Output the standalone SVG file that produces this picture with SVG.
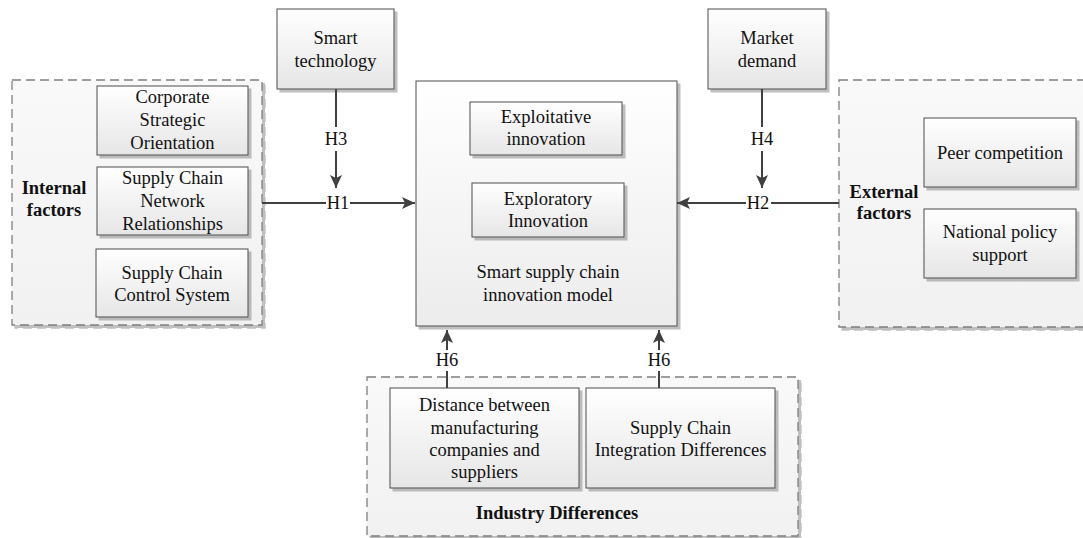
<svg xmlns="http://www.w3.org/2000/svg" width="1083" height="538" viewBox="0 0 1083 538">
<defs>
<linearGradient id="gBox" x1="0" y1="0" x2="0" y2="1"><stop offset="0" stop-color="#ffffff"/><stop offset="1" stop-color="#e6e6e6"/></linearGradient>
<linearGradient id="gMain" x1="0" y1="0" x2="0" y2="1"><stop offset="0" stop-color="#ffffff"/><stop offset="1" stop-color="#ececec"/></linearGradient>
<linearGradient id="gGroup" x1="0" y1="0" x2="0" y2="1"><stop offset="0" stop-color="#f9f9f9"/><stop offset="1" stop-color="#f1f1f1"/></linearGradient>
<filter id="sh" x="-10%" y="-10%" width="130%" height="130%"><feDropShadow dx="3" dy="3" stdDeviation="0.7" flood-color="#8a8a8a" flood-opacity="0.55"/></filter>
<marker id="arr" markerUnits="userSpaceOnUse" markerWidth="14" markerHeight="14" refX="13" refY="6" orient="auto"><path d="M0,0 L13,6 L0,12 L3,6 z" fill="#404040"/></marker>
<style>
.box{fill:url(#gBox);stroke:#4d4d4d;stroke-width:1;filter:url(#sh)}
.main{fill:url(#gMain);stroke:#4d4d4d;stroke-width:1;filter:url(#sh)}
.grp{fill:url(#gGroup);stroke:#7f7f7f;stroke-width:1.3;stroke-dasharray:9,5;filter:url(#sh)}
.t{font-family:"Liberation Serif","Times New Roman",serif;font-size:18.5px;fill:#111;text-anchor:middle}
.b{font-weight:bold}
.ln{stroke:#404040;stroke-width:2;fill:none}
</style>
</defs>
<rect width="1083" height="538" fill="#ffffff"/>

<g id="internal-factors">
<rect class="grp" x="12" y="80" width="250" height="245"/>
<text class="t b" x="54" y="194">Internal</text>
<text class="t b" x="54" y="216">factors</text>
</g>
<g id="corporate-strategic-orientation">
<rect class="box" x="97" y="86" width="151" height="69"/>
<text class="t" x="172.5" y="103">Corporate</text>
<text class="t" x="172.5" y="126">Strategic</text>
<text class="t" x="172.5" y="149">Orientation</text>
</g>
<g id="network-relationships">
<rect class="box" x="97" y="167" width="151" height="68"/>
<text class="t" x="172.5" y="184">Supply Chain</text>
<text class="t" x="172.5" y="207">Network</text>
<text class="t" x="172.5" y="230">Relationships</text>
</g>
<g id="control-system">
<rect class="box" x="96" y="249" width="152" height="68"/>
<text class="t" x="172" y="279">Supply Chain</text>
<text class="t" x="172" y="301">Control System</text>
</g>

<g id="smart-technology">
<rect class="box" x="277" y="9" width="117" height="80"/>
<text class="t" x="335.5" y="44">Smart</text>
<text class="t" x="335.5" y="67">technology</text>
</g>
<g id="market-demand">
<rect class="box" x="708" y="9" width="118" height="80"/>
<text class="t" x="767" y="44">Market</text>
<text class="t" x="767" y="67">demand</text>
</g>

<g id="main-model">
<rect class="main" x="416" y="81" width="261" height="245"/>
<text class="t" x="548" y="278">Smart supply chain</text>
<text class="t" x="548" y="301">innovation model</text>
</g>
<g id="exploitative-innovation">
<rect class="box" x="470" y="102" width="152" height="53"/>
<text class="t" x="546" y="123">Exploitative</text>
<text class="t" x="546" y="145">innovation</text>
</g>
<g id="exploratory-innovation">
<rect class="box" x="472" y="183" width="152" height="54"/>
<text class="t" x="548" y="205">Exploratory</text>
<text class="t" x="548" y="227">Innovation</text>
</g>

<g id="external-factors">
<rect class="grp" x="839" y="80" width="272" height="247"/>
<text class="t b" x="884" y="198">External</text>
<text class="t b" x="884" y="219">factors</text>
</g>
<g id="peer-competition">
<rect class="box" x="924" y="118" width="152" height="69"/>
<text class="t" x="1000" y="159">Peer competition</text>
</g>
<g id="national-policy-support">
<rect class="box" x="924" y="209" width="152" height="69"/>
<text class="t" x="1000" y="238">National policy</text>
<text class="t" x="1000" y="261">support</text>
</g>

<g id="industry-differences">
<rect class="grp" x="367" y="377" width="431" height="159"/>
<text class="t b" x="557" y="519">Industry Differences</text>
</g>
<g id="distance">
<rect class="box" x="390" y="388" width="189" height="100"/>
<text class="t" x="484.5" y="411">Distance between</text>
<text class="t" x="484.5" y="434">manufacturing</text>
<text class="t" x="484.5" y="456">companies and</text>
<text class="t" x="484.5" y="478">suppliers</text>
</g>
<g id="integration-differences">
<rect class="box" x="586" y="388" width="189" height="100"/>
<text class="t" x="680.5" y="434">Supply Chain</text>
<text class="t" x="680.5" y="456">Integration Differences</text>
</g>

<g id="connectors">
<path class="ln" d="M262,203 H326"/>
<path class="ln" d="M350,203 H415" marker-end="url(#arr)"/>
<text class="t" x="338" y="209">H1</text>
<path class="ln" d="M336,89 V127"/>
<path class="ln" d="M336,151 V188" marker-end="url(#arr)"/>
<text class="t" x="336" y="145">H3</text>
<path class="ln" d="M839,203 H771"/>
<path class="ln" d="M746,203 H677" marker-end="url(#arr)"/>
<text class="t" x="758" y="209">H2</text>
<path class="ln" d="M762,89 V127"/>
<path class="ln" d="M762,151 V188" marker-end="url(#arr)"/>
<text class="t" x="762" y="145">H4</text>
<path class="ln" d="M447,388 V371"/>
<path class="ln" d="M447,350 V330" marker-end="url(#arr)"/>
<text class="t" x="447" y="366">H6</text>
<path class="ln" d="M659,388 V371"/>
<path class="ln" d="M659,350 V330" marker-end="url(#arr)"/>
<text class="t" x="659" y="366">H6</text>
</g>
</svg>
